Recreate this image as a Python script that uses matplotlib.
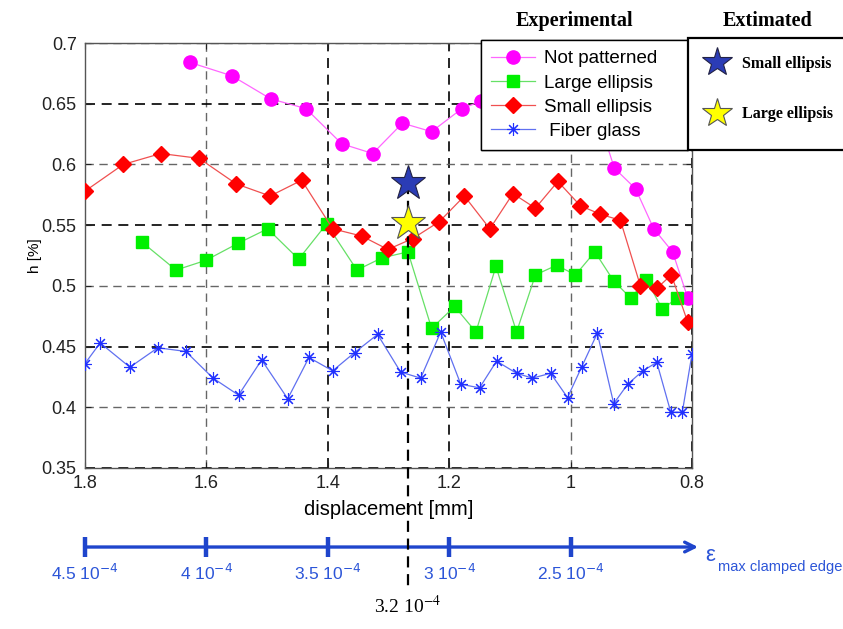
import matplotlib
matplotlib.use('Agg')
import matplotlib.pyplot as plt
from matplotlib.lines import Line2D
from matplotlib.patches import Rectangle

# ---- data ----
not_patterned_x = [1.627, 1.558, 1.494, 1.436, 1.377, 1.326, 1.277, 1.229, 1.179, 1.148,
                   0.944, 0.928, 0.893, 0.863, 0.832, 0.807]
not_patterned_y = [0.684, 0.673, 0.654, 0.646, 0.617, 0.609, 0.634, 0.627, 0.646, 0.652,
                   0.622, 0.597, 0.580, 0.547, 0.528, 0.490]

large_x = [1.706, 1.650, 1.601, 1.548, 1.499, 1.448, 1.402, 1.352, 1.311, 1.268, 1.229,
           1.191, 1.156, 1.123, 1.089, 1.058, 1.023, 0.992, 0.960, 0.929, 0.901, 0.875,
           0.849, 0.824]
large_y = [0.536, 0.513, 0.521, 0.535, 0.547, 0.522, 0.551, 0.513, 0.523, 0.528, 0.465,
           0.483, 0.462, 0.516, 0.462, 0.509, 0.517, 0.509, 0.528, 0.504, 0.490, 0.505,
           0.481, 0.490]

small_x = [1.800, 1.737, 1.675, 1.612, 1.551, 1.495, 1.443, 1.392, 1.344, 1.301, 1.260,
           1.216, 1.175, 1.133, 1.095, 1.058, 1.021, 0.984, 0.951, 0.918, 0.885, 0.858,
           0.834, 0.807]
small_y = [0.578, 0.600, 0.609, 0.605, 0.584, 0.574, 0.587, 0.547, 0.541, 0.530, 0.539,
           0.553, 0.574, 0.547, 0.576, 0.564, 0.586, 0.566, 0.559, 0.554, 0.500, 0.498,
           0.509, 0.470]

fiber_x = [1.800, 1.775, 1.726, 1.680, 1.634, 1.589, 1.547, 1.509, 1.466, 1.431, 1.392,
           1.356, 1.318, 1.280, 1.247, 1.214, 1.181, 1.150, 1.122, 1.089, 1.063, 1.033,
           1.005, 0.982, 0.956, 0.929, 0.906, 0.881, 0.858, 0.835, 0.816, 0.800]
fiber_y = [0.436, 0.453, 0.433, 0.449, 0.446, 0.424, 0.410, 0.439, 0.407, 0.441, 0.430,
           0.445, 0.460, 0.429, 0.424, 0.462, 0.419, 0.416, 0.438, 0.428, 0.424, 0.428,
           0.408, 0.433, 0.461, 0.403, 0.419, 0.430, 0.437, 0.396, 0.396, 0.444]

# estimated values (stars)
est_x = 1.268
est_small = 0.585
est_large = 0.552

x_ticks = [1.8, 1.6, 1.4, 1.2, 1.0, 0.8]
x_labels = ['1.8', '1.6', '1.4', '1.2', '1', '0.8']
y_ticks = [0.35, 0.4, 0.45, 0.5, 0.55, 0.6, 0.65, 0.7]
y_labels = ['0.35', '0.4', '0.45', '0.5', '0.55', '0.6', '0.65', '0.7']

# strain scale under the plot (strain = k * displacement)
strain_ticks = [4.5e-4, 4.0e-4, 3.5e-4, 3.0e-4, 2.5e-4]
strain_labels = ['4.5 10$^{-4}$', '4 10$^{-4}$', '3.5 10$^{-4}$', '3 10$^{-4}$', '2.5 10$^{-4}$']
strain_per_mm = 2.5e-4

plt.rcParams['font.family'] = ['Liberation Sans', 'DejaVu Sans']

fig = plt.figure(figsize=(8.43, 6.29), dpi=100)
ax = fig.add_axes([0.1008, 0.2560, 0.7201, 0.6756])

ax.plot(not_patterned_x, not_patterned_y, color='#ff66ff', lw=0.9, marker='o', ms=9.5,
        mfc='#ff00ff', mec='#ff00ff', label='Not patterned', zorder=3)
ax.plot(large_x, large_y, color='#66e066', lw=0.9, marker='s', ms=9,
        mfc='#00f000', mec='#00f000', label='Large ellipsis', zorder=3)
ax.plot(small_x, small_y, color='#f05050', lw=0.9, marker='D', ms=8,
        mfc='#ff0000', mec='#ff0000', label='Small ellipsis', zorder=3)
ax.plot(fiber_x, fiber_y, color='#6070f0', lw=0.9, marker=(8, 2, 0), ms=9,
        mec='#2030ff', mew=0.8, label=' Fiber glass', zorder=3)

ax.plot([est_x], [est_small], marker='*', ms=26, mfc='#2b3cb5', mec='#222244', mew=0.8,
        ls='none', zorder=5)
ax.plot([est_x], [est_large], marker='*', ms=26, mfc='#ffff00', mec='#555555', mew=0.8,
        ls='none', zorder=5)

ax.set_xlim(1.8, 0.8)
ax.set_ylim(0.35, 0.7)
ax.set_xticks(x_ticks)
ax.set_xticklabels(x_labels, fontsize=13)
ax.set_yticks(y_ticks)
ax.set_yticklabels(y_labels, fontsize=13)
ax.tick_params(direction='in', length=4, top=True, right=True, colors='#222222')
ax.tick_params(axis='x', pad=5)
ax.tick_params(axis='y', pad=6)
for sp in ax.spines.values():
    sp.set_color('#555555')
    sp.set_linewidth(1.0)

ax.grid(True, color='black', linestyle=(0, (6, 4)), lw=1.2)
for gl, v in zip(ax.get_ygridlines(), y_ticks):
    if round(v * 100) % 10 == 0:
        gl.set_color('#666666')
        gl.set_linewidth(1.0)
for gl, v in zip(ax.get_xgridlines(), x_ticks):
    if round(v * 10) in (16, 10):
        gl.set_color('#666666')
        gl.set_linewidth(1.0)

ax.set_ylabel('h [%]', fontsize=11, labelpad=0)
ax.set_xlabel('displacement [mm]', fontsize=14.5, labelpad=6)

# vertical marker line through the estimate
yl = ax.get_ylim()
y_top = (est_small - yl[0]) / (yl[1] - yl[0])
ax.plot([est_x, est_x], [y_top, -0.29], transform=ax.get_xaxis_transform(),
        color='black', lw=1.6, ls=(0, (5, 3)), clip_on=False, zorder=4)

# strain axis
blue = '#1f45cc'
trans = ax.get_xaxis_transform()
x_strain = [s / strain_per_mm for s in strain_ticks]
ax.annotate('', xy=(0.79, -0.186), xytext=(1.8, -0.186), xycoords=trans, textcoords=trans,
            arrowprops=dict(arrowstyle='->,head_length=0.7,head_width=0.35', color=blue, lw=2.4,
                            shrinkA=0, shrinkB=0), annotation_clip=False)
for xs, lab in zip(x_strain, strain_labels):
    ax.plot([xs, xs], [-0.163, -0.210], transform=trans, color=blue, lw=3.2,
            clip_on=False, solid_capstyle='butt')
    ax.text(xs, -0.247, lab, transform=trans, color='#2c55d8', fontsize=12.5,
            ha='center', va='center', math_fontfamily='dejavusans')
ax.text(1.021, -0.206, 'ε', transform=ax.transAxes, color='#2c55d8', fontsize=16,
        ha='left', va='center')
ax.text(1.043, -0.232, 'max clamped edge', transform=ax.transAxes, color='#2c55d8',
        fontsize=10.5, ha='left', va='center')
ax.text(est_x, -0.325, '3.2 10$^{-4}$', transform=trans, color='black', fontsize=14,
        family='Liberation Serif', ha='center', va='center', math_fontfamily='stix')

# experimental legend
leg1 = ax.legend(loc='upper left', bbox_to_anchor=(0.5706, 0.5, 0.2455, 0.4364),
                 bbox_transform=fig.transFigure, mode='expand',
                 fontsize=13.5, frameon=True, fancybox=False, edgecolor='black', framealpha=1,
                 borderaxespad=0, borderpad=0.55, labelspacing=0.37, handlelength=2.35,
                 handletextpad=0.45)
leg1.get_frame().set_linewidth(1.0)
ax.add_artist(leg1)

# estimated legend: box + frameless legend
fig.add_artist(Rectangle((688 / 843, 1 - 150 / 629), 0.3, 112 / 629, transform=fig.transFigure,
                         facecolor='white', edgecolor='black', lw=1.6, zorder=6))
est_handles = [Line2D([], [], ls='none', marker='*', ms=22, mfc='#2b3cb5', mec='#222244', mew=0.8),
               Line2D([], [], ls='none', marker='*', ms=22, mfc='#ffff00', mec='#555555', mew=0.8)]
leg2 = fig.legend(est_handles, ['Small ellipsis', 'Large ellipsis'], loc='upper left',
                  bbox_to_anchor=(0.828, 0.924),
                  prop=dict(family='Liberation Serif', weight='bold', size=11.5),
                  frameon=False, borderaxespad=0, borderpad=0.5, labelspacing=2.15,
                  handlelength=1.4, handletextpad=0.85)
leg2.set_zorder(7)

fig.text(0.681, 0.967, 'Experimental', family='Liberation Serif', weight='bold', fontsize=14.5,
         ha='center', va='center')
fig.text(0.911, 0.967, 'Extimated', family='Liberation Serif', weight='bold', fontsize=14.5,
         ha='center', va='center')

fig.savefig('out.png', dpi=100)
